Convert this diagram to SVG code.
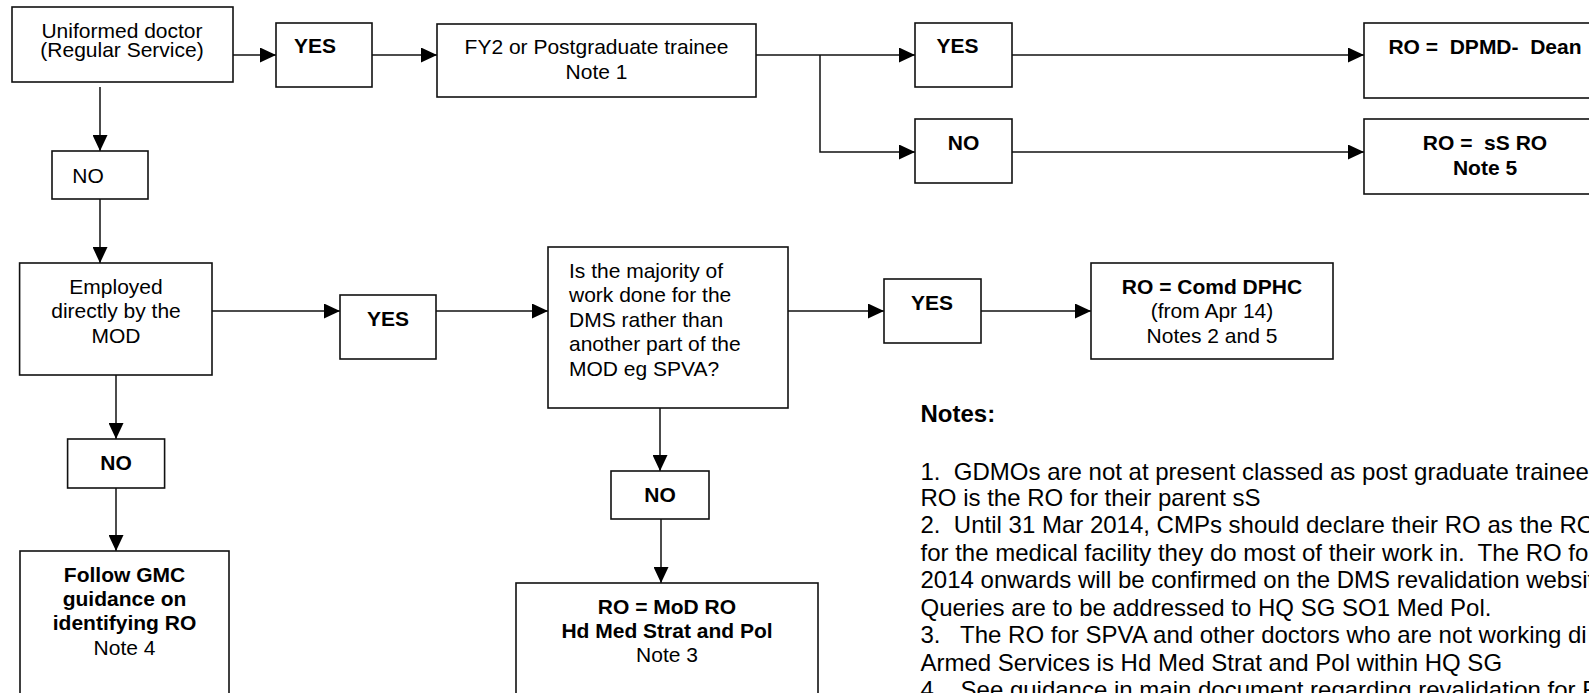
<svg xmlns="http://www.w3.org/2000/svg" width="1589" height="693" viewBox="0 0 1589 693">
<defs>
<marker id="arr" markerUnits="userSpaceOnUse" markerWidth="16" markerHeight="15" refX="16" refY="7.5" orient="auto">
<path d="M0,0 L16,7.5 L0,15 Z" fill="#000"/>
</marker>
<style>
rect.b{fill:#fff;stroke:#111;stroke-width:1.6}
text{font-family:"Liberation Sans",Arial,sans-serif;font-size:21px;fill:#000;white-space:pre}
text.c{text-anchor:middle}
.bd{font-weight:bold}
text.n{font-size:24px}
#connectors path{fill:none;stroke:#111;stroke-width:1.5}
</style>
</defs>
<rect width="1589" height="693" fill="#fff"/>

<g id="connectors">
<path d="M233,55 L276,55" marker-end="url(#arr)"/>
<path d="M372,55 L437,55" marker-end="url(#arr)"/>
<path d="M100,87 L100,151" marker-end="url(#arr)"/>
<path d="M100,199 L100,263" marker-end="url(#arr)"/>
<path d="M212,311 L340,311" marker-end="url(#arr)"/>
<path d="M436,311 L548,311" marker-end="url(#arr)"/>
<path d="M788,311 L884,311" marker-end="url(#arr)"/>
<path d="M981,311 L1091,311" marker-end="url(#arr)"/>
<path d="M660,408 L660,471" marker-end="url(#arr)"/>
<path d="M661,519 L661,583" marker-end="url(#arr)"/>
<path d="M116,375 L116,439" marker-end="url(#arr)"/>
<path d="M116,488 L116,551" marker-end="url(#arr)"/>
<path d="M756,55 L915,55" marker-end="url(#arr)"/>
<path d="M820,55 L820,152 L915,152" marker-end="url(#arr)"/>
<path d="M1012,55 L1364,55" marker-end="url(#arr)"/>
<path d="M1012,152 L1364,152" marker-end="url(#arr)"/>
</g>

<g id="uniformed">
<rect class="b" x="12" y="7" width="221" height="75"/>
<text class="c" x="122" y="37.5">Uniformed doctor</text>
<text class="c" x="122" y="57">(Regular Service)</text>
</g>
<g id="yes1">
<rect class="b" x="276" y="23" width="96" height="64"/>
<text class="c bd" x="315" y="53">YES</text>
</g>
<g id="fy2">
<rect class="b" x="437" y="24" width="319" height="73"/>
<text class="c" x="596.5" y="53.5">FY2 or Postgraduate trainee</text>
<text class="c" x="596.5" y="79">Note 1</text>
</g>
<g id="yes4">
<rect class="b" x="915" y="23" width="97" height="64"/>
<text class="c bd" x="957.5" y="53">YES</text>
</g>
<g id="no4">
<rect class="b" x="915" y="119" width="97" height="64"/>
<text class="c bd" x="963.5" y="150">NO</text>
</g>
<g id="ro-dpmd">
<rect class="b" x="1364" y="23" width="250" height="75"/>
<text class="c bd" x="1485" y="54">RO =  DPMD-  Dean</text>
</g>
<g id="ro-ss">
<rect class="b" x="1364" y="119" width="250" height="75"/>
<text class="c bd" x="1485" y="149.5">RO =  sS RO</text>
<text class="c bd" x="1485" y="175">Note 5</text>
</g>
<g id="no1">
<rect class="b" x="52" y="151" width="96" height="48"/>
<text class="c" x="88" y="183">NO</text>
</g>
<g id="employed">
<rect class="b" x="19.6" y="263" width="192.4" height="112"/>
<text class="c" x="116" y="294">Employed</text>
<text class="c" x="116" y="318">directly by the</text>
<text class="c" x="116" y="343">MOD</text>
</g>
<g id="yes2">
<rect class="b" x="340" y="295" width="96" height="64"/>
<text class="c bd" x="388" y="326">YES</text>
</g>
<g id="question">
<rect class="b" x="548" y="247" width="240" height="161"/>
<text x="569" y="277.7">Is the majority of</text>
<text x="569" y="301.7">work done for the</text>
<text x="569" y="326.5">DMS rather than</text>
<text x="569" y="350.7">another part of the</text>
<text x="569" y="375.5">MOD eg SPVA?</text>
</g>
<g id="yes3">
<rect class="b" x="884" y="279" width="97" height="64"/>
<text class="c bd" x="932" y="310">YES</text>
</g>
<g id="comd-dphc">
<rect class="b" x="1091" y="263" width="242" height="96"/>
<text class="c bd" x="1212" y="294">RO = Comd DPHC</text>
<text class="c" x="1212" y="318">(from Apr 14)</text>
<text class="c" x="1212" y="342.7">Notes 2 and 5</text>
</g>
<g id="no2">
<rect class="b" x="611" y="471" width="98" height="48"/>
<text class="c bd" x="660" y="502">NO</text>
</g>
<g id="ro-mod">
<rect class="b" x="516" y="583" width="302" height="140"/>
<text class="c bd" x="667" y="614">RO = MoD RO</text>
<text class="c bd" x="667" y="638">Hd Med Strat and Pol</text>
<text class="c" x="667" y="662">Note 3</text>
</g>
<g id="no3">
<rect class="b" x="67.6" y="439" width="97" height="49"/>
<text class="c bd" x="116" y="470">NO</text>
</g>
<g id="follow-gmc">
<rect class="b" x="20" y="551" width="209" height="170"/>
<text class="c bd" x="124.5" y="581.7">Follow GMC</text>
<text class="c bd" x="124.5" y="605.5">guidance on</text>
<text class="c bd" x="124.5" y="630">identifying RO</text>
<text class="c" x="124.5" y="654.5">Note 4</text>
</g>

<g id="notes">
<text class="n bd" x="920.5" y="421.7">Notes:</text>
<text class="n" x="920.5" y="480">1.  GDMOs are not at present classed as post graduate trainee</text>
<text class="n" x="920.5" y="506">RO is the RO for their parent sS</text>
<text class="n" x="920.5" y="533.3">2.  Until 31 Mar 2014, CMPs should declare their RO as the RO</text>
<text class="n" x="920.5" y="561">for the medical facility they do most of their work in.  The RO fo</text>
<text class="n" x="920.5" y="588.3">2014 onwards will be confirmed on the DMS revalidation websit</text>
<text class="n" x="920.5" y="616">Queries are to be addressed to HQ SG SO1 Med Pol.</text>
<text class="n" x="920.5" y="643.3">3.   The RO for SPVA and other doctors who are not working di</text>
<text class="n" x="920.5" y="670.7">Armed Services is Hd Med Strat and Pol within HQ SG</text>
<text class="n" x="920.5" y="698">4.   See guidance in main document regarding revalidation for R</text>
</g>
</svg>
